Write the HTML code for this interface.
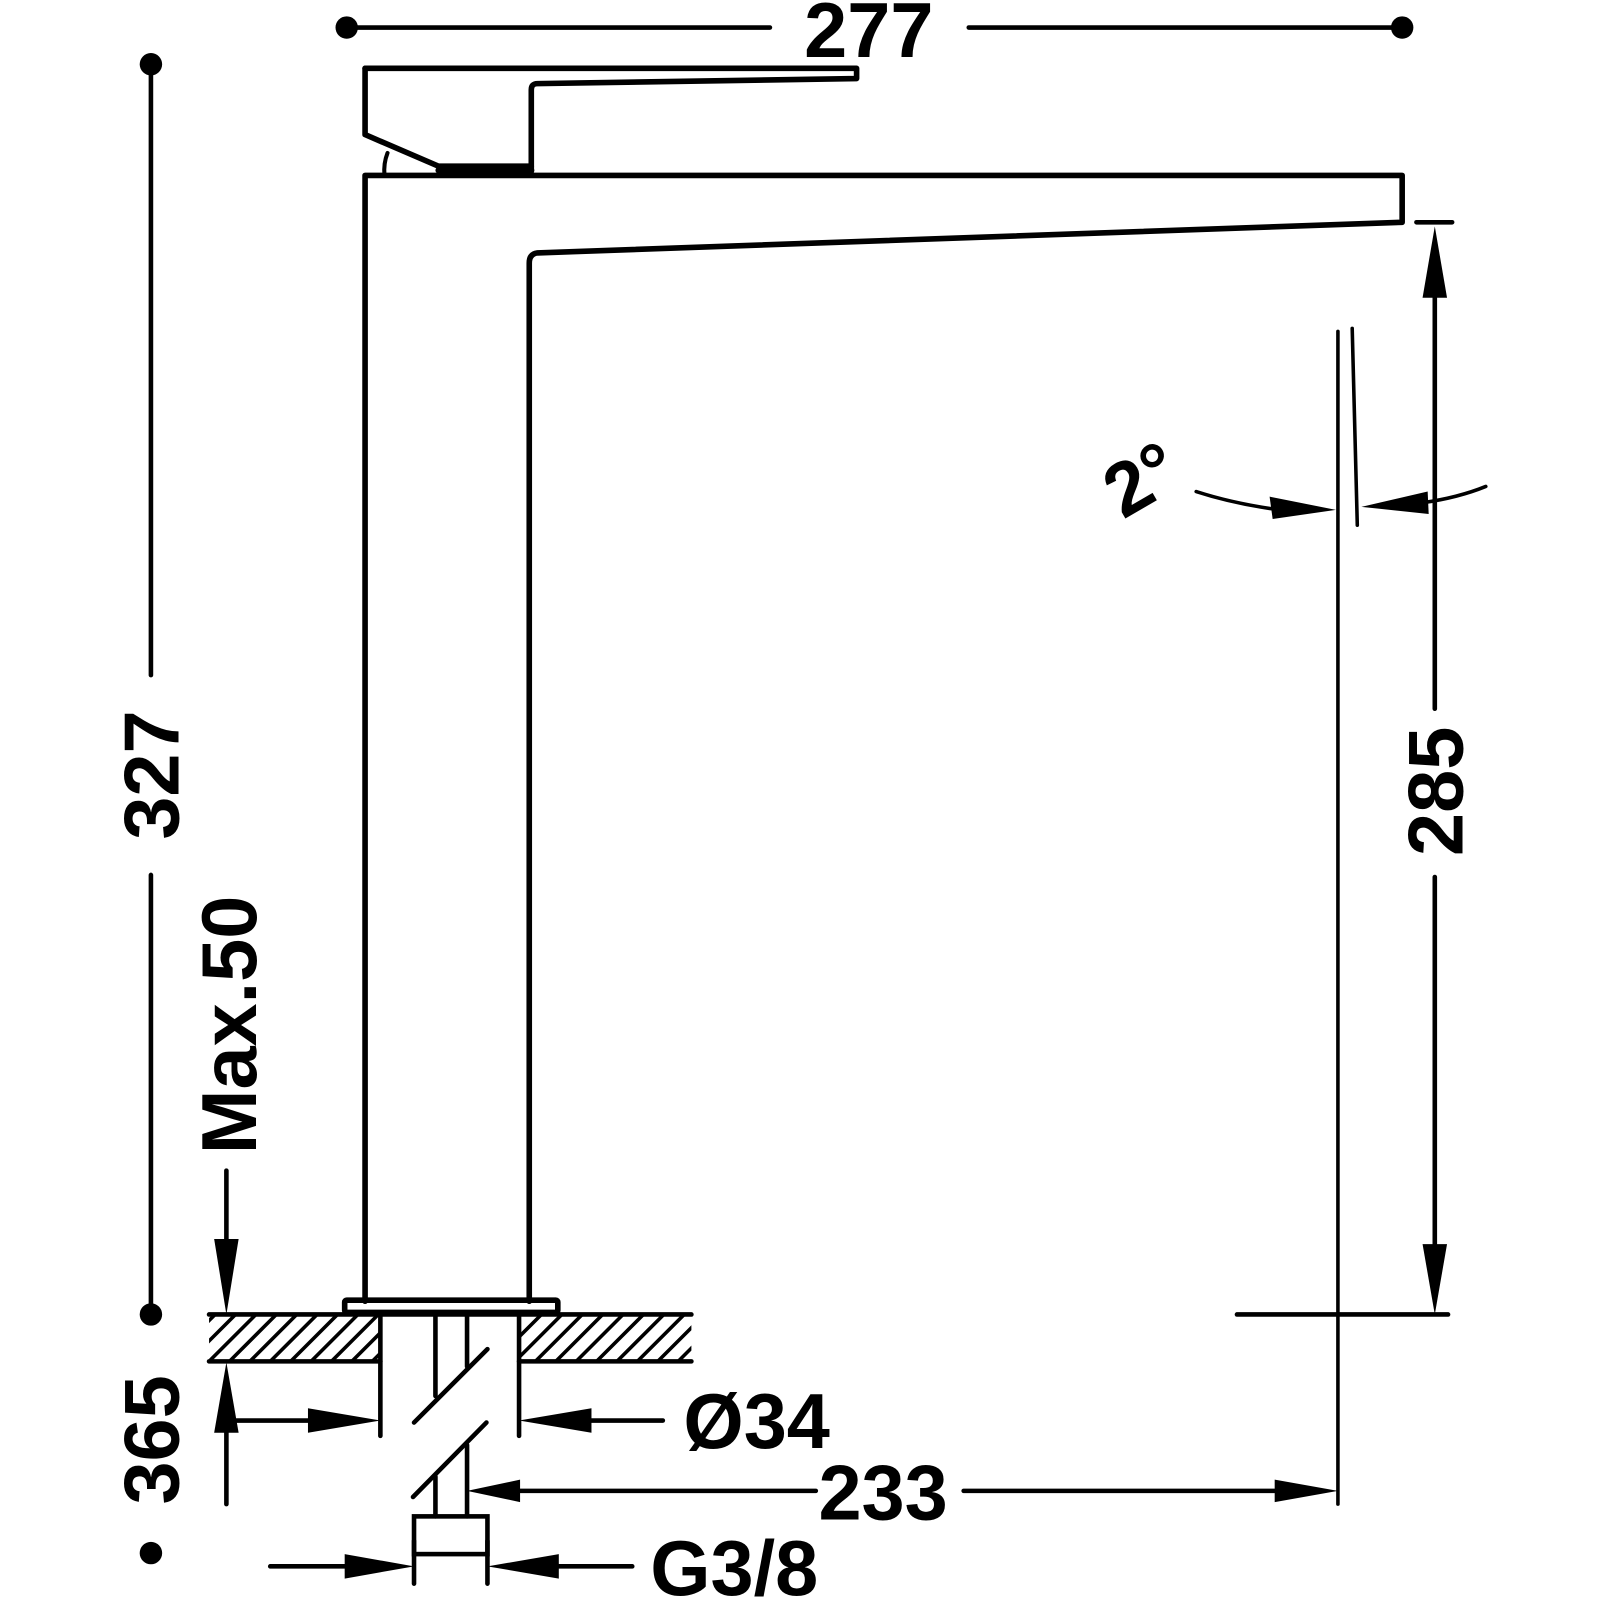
<!DOCTYPE html>
<html><head><meta charset="utf-8"><style>html,body{margin:0;padding:0;background:#fff}svg{display:block}</style></head>
<body>
<svg width="1600" height="1600" viewBox="0 0 1569 1569" xmlns="http://www.w3.org/2000/svg">
<g fill="none" stroke="#000" stroke-linecap="round" stroke-linejoin="round">
<line x1="340" y1="27" x2="755" y2="27" stroke-width="4.5"/>
<line x1="950" y1="27" x2="1375" y2="27" stroke-width="4.5"/>
<line x1="148" y1="63" x2="148" y2="662" stroke-width="4.5"/>
<line x1="148" y1="858" x2="148" y2="1289" stroke-width="4.5"/>
<path d="M358,67 L840,67 L840,77 L527,82 Q521,82 521,88 L521,168" stroke-width="5.5"/>
<path d="M358,67 L358,132 L430,163 L521,163" stroke-width="5.5"/>
<line x1="430" y1="167" x2="521" y2="167" stroke-width="6"/>
<path d="M380,150 Q376,160 377,172" stroke-width="4"/>
<path d="M358,1276 L358,172 L1375,172 L1375,218 L527,248 Q519,249 519,258 L519,1276" stroke-width="5.5"/>
<rect x="338" y="1275" width="209" height="12" rx="2" stroke-width="5.5"/>
<line x1="205" y1="1289" x2="678" y2="1289" stroke-width="4.5"/>
<line x1="205" y1="1335" x2="373" y2="1335" stroke-width="4.5"/>
<line x1="509" y1="1335" x2="678" y2="1335" stroke-width="4.5"/>
</g>
<g stroke="#000" stroke-width="3.5">
<clipPath id="h1"><rect x="205" y="1291" width="168" height="43"/></clipPath>
<clipPath id="h2"><rect x="509" y="1291" width="169" height="43"/></clipPath>
<g clip-path="url(#h1)">
<path d="M165,1335 l46,-46 M185,1335 l46,-46 M205,1335 l46,-46 M225,1335 l46,-46 M245,1335 l46,-46 M265,1335 l46,-46 M285,1335 l46,-46 M305,1335 l46,-46 M325,1335 l46,-46 M345,1335 l46,-46 M365,1335 l46,-46"/>
</g>
<g clip-path="url(#h2)">
<path d="M485,1335 l46,-46 M505,1335 l46,-46 M525,1335 l46,-46 M545,1335 l46,-46 M565,1335 l46,-46 M585,1335 l46,-46 M605,1335 l46,-46 M625,1335 l46,-46 M645,1335 l46,-46 M665,1335 l46,-46"/>
</g>
</g>
<g fill="none" stroke="#000" stroke-width="4.5" stroke-linecap="round">
<line x1="373" y1="1291" x2="373" y2="1408"/>
<line x1="509" y1="1291" x2="509" y2="1408"/>
<line x1="427" y1="1291" x2="427" y2="1369"/>
<line x1="458" y1="1291" x2="458" y2="1340"/>
<line x1="406" y1="1395" x2="478" y2="1323"/>
<line x1="405" y1="1468" x2="477" y2="1395"/>
<line x1="427" y1="1448" x2="427" y2="1487"/>
<line x1="458" y1="1417" x2="458" y2="1487"/>
<rect x="406" y="1487" width="72" height="37"/>
<line x1="406" y1="1511" x2="406" y2="1553"/>
<line x1="478" y1="1511" x2="478" y2="1553"/>
<line x1="232" y1="1393" x2="310" y2="1393"/>
<line x1="570" y1="1393" x2="650" y2="1393"/>
<line x1="500" y1="1462" x2="800" y2="1462"/>
<line x1="945" y1="1462" x2="1260" y2="1462"/>
<line x1="265" y1="1536" x2="345" y2="1536"/>
<line x1="540" y1="1536" x2="620" y2="1536"/>
<line x1="222" y1="1148" x2="222" y2="1225"/>
<line x1="222" y1="1400" x2="222" y2="1475"/>
<line x1="1389" y1="218" x2="1424" y2="218"/>
<line x1="1407" y1="280" x2="1407" y2="695"/>
<line x1="1407" y1="860" x2="1407" y2="1230"/>
<line x1="1213" y1="1289" x2="1420" y2="1289"/>
<line x1="1312" y1="325" x2="1312" y2="1475" stroke-width="3.5"/>
<line x1="1326" y1="322" x2="1331" y2="515" stroke-width="3.5"/>
<path d="M1173,482 Q1210,494 1255,500" stroke-width="3.5"/>
<path d="M1395,493 Q1430,488 1457,477" stroke-width="3.5"/>
</g>
<g fill="#000">
<circle cx="340" cy="27" r="11"/><circle cx="1375" cy="27" r="11"/>
<circle cx="148" cy="63" r="11"/><circle cx="148" cy="1289" r="11"/><circle cx="148" cy="1523" r="11"/>
<polygon points="373,1393 302,1381 302,1405"/>
<polygon points="509,1393 580,1381 580,1405"/>
<polygon points="458,1462 510,1451 510,1473"/>
<polygon points="1312,1462 1250,1451 1250,1473"/>
<polygon points="406,1536 338,1524 338,1548"/>
<polygon points="478,1536 548,1524 548,1548"/>
<polygon points="222,1289 210,1215 234,1215"/>
<polygon points="222,1336 210,1405 234,1405"/>
<polygon points="1407,222 1395,292 1419,292"/>
<polygon points="1407,1289 1395,1220 1419,1220"/>
<polygon points="1310,500 1245,487 1248,509"/>
<polygon points="1335,497 1400,482 1401,504"/>
</g>
<g font-family="Liberation Sans, sans-serif" font-weight="bold" fill="#000" font-size="76" text-anchor="middle">
<text x="852" y="56">277</text>
<text transform="translate(175,760) rotate(-90)">327</text>
<text transform="translate(175,1412) rotate(-90)">365</text>
<text transform="translate(251,1005) rotate(-90)">Max.50</text>
<text transform="translate(1434,776) rotate(-90)">285</text>
<text x="866" y="1490">233</text>
<text x="742" y="1420">Ø34</text>
<text x="720" y="1564">G3/8</text>
<text transform="translate(1132,492) rotate(-30)" font-size="74">2°</text>
</g>
</svg>
</body></html>
